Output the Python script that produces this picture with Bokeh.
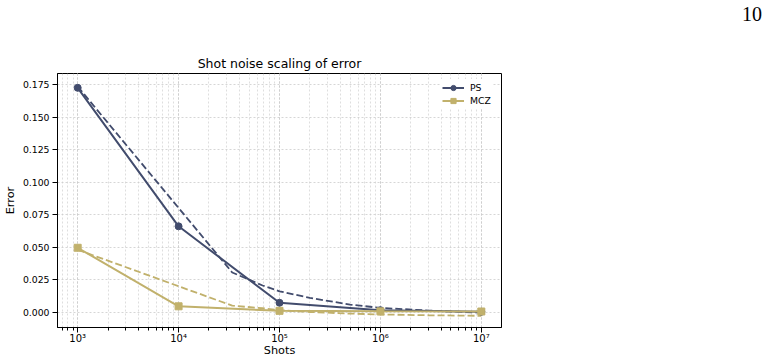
from bokeh.plotting import figure
from bokeh.models import (Range1d, FixedTicker, PrintfTickFormatter, CustomJSTickFormatter,
                          Legend, LegendItem, Div, Spacer)
from bokeh.layouts import column, row
from bokeh.embed import file_html
from bokeh.resources import INLINE

# ---- data ----
shots = [1e3, 1e4, 1e5, 1e6, 1e7]
ps_err = [0.1725, 0.0660, 0.0072, 0.0015, 0.0003]
mcz_err = [0.0495, 0.0045, 0.0010, 0.0006, 0.0005]

fit_shots = [1e3, 3.4e4, 6.8e4, 1e5, 2e5, 5e5, 1e6, 3e6, 1e7]
ps_fit = [0.1735, 0.0305, 0.0205, 0.0160, 0.0110, 0.0058, 0.0033, 0.0012, -0.0004]
mcz_fit = [0.0480, 0.0050, 0.0030, 0.0015, 0.0001, -0.0011, -0.0018, -0.0024, -0.0028]

y_ticks = [0.0, 0.025, 0.05, 0.075, 0.1, 0.125, 0.15, 0.175]
page_number = "10"

PS_COLOR = "#424c6d"
MCZ_COLOR = "#c1b16c"
FONT = "DejaVu Sans"

HEAD = 30                      # height of the strip holding the page number
L, R, T, B = 55, 267, 73 - HEAD, 35

p = figure(width=768, height=362 - HEAD, x_axis_type="log", output_backend="svg",
           toolbar_location=None, title="Shot noise scaling of error",
           x_range=Range1d(10**2.8, 10**7.2), y_range=Range1d(-0.0118, 0.1835),
           min_border_left=L, min_border_right=R, min_border_top=T, min_border_bottom=B,
           margin=0)

p.background_fill_color = "white"
p.border_fill_color = "white"
p.outline_line_color = "black"
p.outline_line_width = 1

p.title.text_font = FONT
p.title.text_font_size = "12.5px"
p.title.text_font_style = "normal"
p.title.align = "center"
p.title.text_color = "black"
p.title.standoff = 5

for ax in (p.xaxis[0], p.yaxis[0]):
    ax.axis_line_color = "black"
    ax.major_tick_line_color = "black"
    ax.minor_tick_line_color = "black"
    ax.major_tick_out = 5
    ax.major_tick_in = 0
    ax.minor_tick_out = 3
    ax.minor_tick_in = 0
    ax.major_label_text_font = FONT
    ax.major_label_text_font_size = "9.3px"
    ax.major_label_text_color = "black"
    ax.axis_label_text_font = FONT
    ax.axis_label_text_font_size = "11.3px"
    ax.axis_label_text_font_style = "normal"
    ax.axis_label_text_color = "black"
    ax.major_label_standoff = 3

p.xaxis.axis_label = "Shots"
p.yaxis.axis_label = "Error"
p.xaxis.major_label_standoff = 0
p.xaxis.axis_label_standoff = -3
p.yaxis.axis_label_standoff = 3
p.xaxis.major_label_text_font_size = "10px"

p.yaxis.ticker = FixedTicker(ticks=y_ticks)
p.yaxis.formatter = PrintfTickFormatter(format="%.3f")
p.yaxis.minor_tick_line_color = None

p.xaxis.formatter = CustomJSTickFormatter(code="""
const sup = {'0':'\u2070','1':'\u00b9','2':'\u00b2','3':'\u00b3','4':'\u2074','5':'\u2075','6':'\u2076','7':'\u2077','8':'\u2078','9':'\u2079','-':'\u207b'};
const e = Math.round(Math.log10(tick));
return '10' + String(e).split('').map(c => sup[c]).join('');
""")

p.xgrid.grid_line_color = "#cccccc"
p.xgrid.grid_line_dash = "2 2"
p.xgrid.grid_line_width = 0.8
p.xgrid.minor_grid_line_color = "#d6d6d6"
p.xgrid.minor_grid_line_dash = "2 2"
p.xgrid.minor_grid_line_width = 0.8
p.ygrid.grid_line_color = "#cccccc"
p.ygrid.grid_line_dash = "2 2"
p.ygrid.grid_line_width = 0.8

# fitted (dashed) curves
p.line(fit_shots, ps_fit, line_color=PS_COLOR, line_width=1.8, line_dash="7 3")
p.line(fit_shots, mcz_fit, line_color=MCZ_COLOR, line_width=1.8, line_dash="7 3")

# measured
ps_line = p.line(shots, ps_err, line_color=PS_COLOR, line_width=2)
ps_pts = p.scatter(shots, ps_err, marker="circle", size=7, fill_color=PS_COLOR, line_color=PS_COLOR)
mcz_line = p.line(shots, mcz_err, line_color=MCZ_COLOR, line_width=2)
mcz_pts = p.scatter(shots, mcz_err, marker="square", size=7, fill_color=MCZ_COLOR, line_color=MCZ_COLOR)

legend = Legend(items=[LegendItem(label="PS", renderers=[ps_line, ps_pts]),
                       LegendItem(label="MCZ", renderers=[mcz_line, mcz_pts])],
                location=(383, 218))
legend.border_line_alpha = 0
legend.background_fill_color = "white"
legend.background_fill_alpha = 1
legend.padding = 2
legend.margin = 0
legend.spacing = 0
legend.glyph_width = 22
legend.glyph_height = 13
legend.label_height = 13
legend.label_standoff = 6
legend.label_text_font = FONT
legend.label_text_font_size = "9.3px"
legend.label_text_color = "black"
p.add_layout(legend)

# page number strip at the top right of the page
page_div = Div(text=('<div style="padding-top:4px;font-family:\'Liberation Serif\',serif;'
                     'font-size:20px;line-height:20px;color:black;white-space:nowrap">'
                     + page_number + '</div>'),
               width=26, height=HEAD, margin=0)
head = row(Spacer(width=742, height=HEAD, margin=0), page_div, margin=0, spacing=0)

layout = column(head, p, margin=0, spacing=0)

open("out.html", "w").write(file_html(layout, INLINE))
